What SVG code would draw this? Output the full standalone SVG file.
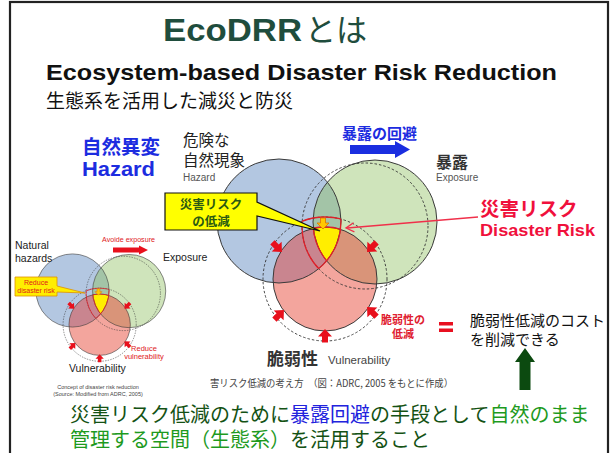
<svg xmlns="http://www.w3.org/2000/svg" width="611" height="453" viewBox="0 0 611 453">
<style>
.jp{font-family:'Noto Sans CJK JP','Noto Sans CJK SC',sans-serif}
.en{font-family:'Liberation Sans',Arial,sans-serif}
.ol{stroke:#3a3a3a;stroke-width:1;fill:none}
.dash{stroke:#333;stroke-width:0.9;fill:none;stroke-dasharray:2.5 2}
.red{stroke:#e0202a;stroke-width:1.3;fill:none}
.rarr{fill:#e8101c}
</style>
<defs>
<clipPath id="cB"><circle cx="279" cy="221" r="62"/></clipPath>
<clipPath id="cG"><circle cx="375" cy="222" r="62"/></clipPath>
<clipPath id="cP"><circle cx="325" cy="279" r="52"/></clipPath>
<clipPath id="cGD"><circle cx="365" cy="226" r="63"/></clipPath>
<clipPath id="cPD"><circle cx="325" cy="279" r="62"/></clipPath>
<path id="ra" class="rarr" d="M0,-7 L7,0.5 L3,0.5 L3,6.5 L-3,6.5 L-3,0.5 L-7,0.5 Z"/>
<g id="venn">
 <circle cx="279" cy="221" r="62" fill="#b3c7e1"/>
 <circle cx="375" cy="222" r="62" fill="#cfe4bb"/>
 <g clip-path="url(#cB)"><circle cx="375" cy="222" r="62" fill="#a3c4a7"/></g>
 <circle cx="325" cy="279" r="52" fill="#f3a59d"/>
 <g clip-path="url(#cB)"><circle cx="325" cy="279" r="52" fill="#c9858f"/></g>
 <g clip-path="url(#cG)"><circle cx="325" cy="279" r="52" fill="#d99479"/></g>
 <g clip-path="url(#cB)"><g clip-path="url(#cG)"><circle cx="325" cy="279" r="52" fill="#ffee00"/></g></g>
 <circle class="ol" cx="279" cy="221" r="62"/>
 <circle class="ol" cx="375" cy="222" r="62"/>
 <circle class="ol" cx="325" cy="279" r="52"/>
 <circle class="dash" cx="365" cy="226" r="63"/>
 <circle class="dash" cx="325" cy="279" r="62"/>
 <g clip-path="url(#cB)"><g clip-path="url(#cGD)"><circle class="red" cx="325" cy="279" r="62"/></g></g>
 <g clip-path="url(#cGD)"><g clip-path="url(#cPD)"><circle class="red" cx="279" cy="221" r="62"/></g></g>
 <g clip-path="url(#cB)"><g clip-path="url(#cPD)"><circle class="red" cx="365" cy="226" r="63"/></g></g>
 <g clip-path="url(#cB)"><g clip-path="url(#cG)"><circle class="red" cx="325" cy="279" r="52"/></g></g>
 <g clip-path="url(#cB)"><g clip-path="url(#cP)"><circle class="red" cx="375" cy="222" r="62"/></g></g>
 <path d="M320.5,218 H325.5 V223 H329 L323,229 L317,223 H320.5 Z" fill="#ffc800" stroke="#e07000" stroke-width="0.8"/>
 <use href="#ra" transform="translate(277,247) rotate(135)"/>
 <use href="#ra" transform="translate(372,247) rotate(-135)"/>
 <use href="#ra" transform="translate(279,315) rotate(45)"/>
 <use href="#ra" transform="translate(372,312) rotate(-45)"/>
 <use href="#ra" transform="translate(325,336)"/>
</g>
</defs>

<rect x="10" y="2" width="598" height="470" fill="#fff" stroke="#222" stroke-width="2.2"/>

<g id="title">
 <text class="en" x="163" y="41" font-size="31" font-weight="bold" fill="#1f4d3d" textLength="139" lengthAdjust="spacingAndGlyphs">EcoDRR</text>
 <text class="jp" x="305" y="41" font-size="31" fill="#1f4d3d">とは</text>
 <text class="en" x="46" y="80" font-size="22" font-weight="bold" fill="#111" textLength="511" lengthAdjust="spacingAndGlyphs">Ecosystem-based Disaster Risk Reduction</text>
 <text class="jp" x="46" y="108" font-size="19" fill="#111">生態系を活用した減災と防災</text>
</g>

<g id="small-diagram">
 <use href="#venn" transform="translate(-92.1,160.1) scale(0.59)"/>
 <text class="en" x="15" y="249" font-size="10.5" fill="#222">Natural</text>
 <text class="en" x="15" y="262" font-size="10.5" fill="#222">hazards</text>
 <text class="en" x="102" y="242" font-size="7" fill="#e0201c" textLength="53" lengthAdjust="spacingAndGlyphs">Avoide exposure</text>
 <path d="M113,247.5 H139 V245.5 L148,250 L139,254.5 V252.5 H113 Z" fill="#e8101c"/>
 <text class="en" x="163" y="261" font-size="10.5" fill="#222">Exposure</text>
 <path d="M15,277 H57 V286 L85,293 L57,292 V296 H15 Z" fill="#ffee00" stroke="#e09000" stroke-width="0.8"/>
 <text class="en" x="36" y="285" font-size="7" fill="#e0201c" text-anchor="middle">Reduce</text>
 <text class="en" x="36" y="293" font-size="7" fill="#e0201c" text-anchor="middle">disaster risk</text>
 <text class="en" x="144" y="351" font-size="7.5" fill="#e0201c" text-anchor="middle">Reduce</text>
 <text class="en" x="144" y="359" font-size="7.5" fill="#e0201c" text-anchor="middle">vulnerability</text>
 <text class="en" x="69" y="372" font-size="10.5" fill="#222">Vulnerability</text>
 <text class="en" x="98" y="389" font-size="5.5" fill="#444" text-anchor="middle">Concept of disaster risk reduction</text>
 <text class="en" x="98" y="396" font-size="5.5" fill="#444" text-anchor="middle">(Source: Modified from ADRC, 2005)</text>
</g>

<g id="main-diagram">
 <use href="#venn"/>
</g>

<g id="connectors">
 <path d="M350,145 H395 V141 L410,149.5 L395,158 V154 H350 Z" fill="#1a2ee0"/>
 <line x1="478" y1="217" x2="347" y2="228" stroke="#f0304a" stroke-width="1.3"/>
 <polyline points="353.6,222.8 346,228 354.4,231.8" fill="none" stroke="#f0304a" stroke-width="1.3"/>
 <path d="M525,348 L535,362 H530.5 V390 H519.5 V362 H515 Z" fill="#0c4a10"/>
</g>

<g id="callout">
 <path d="M165,193 H257 V202 L320,231 L257,216 V230 H165 Z" fill="#ffff00" stroke="#111" stroke-width="1.2"/>
 <text class="jp" x="211" y="209" font-size="12.5" font-weight="bold" fill="#2a5a12" text-anchor="middle">災害リスク</text>
 <text class="jp" x="211" y="226" font-size="12.5" font-weight="bold" fill="#2a5a12" text-anchor="middle">の低減</text>
</g>

<g id="labels">
 <text class="jp" x="82" y="154" font-size="19.5" font-weight="bold" fill="#1c2ce0">自然異変</text>
 <text class="en" x="82" y="176" font-size="20" font-weight="bold" fill="#1c2ce0" textLength="73" lengthAdjust="spacingAndGlyphs">Hazard</text>
 <text class="jp" x="183" y="146" font-size="15.5" fill="#222">危険な</text>
 <text class="jp" x="183" y="166" font-size="15.5" fill="#222">自然現象</text>
 <text class="en" x="183" y="181" font-size="10" fill="#555">Hazard</text>
 <text class="jp" x="342" y="139" font-size="15" font-weight="bold" fill="#1c2ce0">暴露の回避</text>
 <text class="jp" x="436" y="168" font-size="16" font-weight="bold" fill="#333">暴露</text>
 <text class="en" x="436" y="181" font-size="10" fill="#555">Exposure</text>
 <text class="jp" x="480" y="216" font-size="19.5" font-weight="bold" fill="#f0103c">災害リスク</text>
 <text class="en" x="480" y="236" font-size="17" font-weight="bold" fill="#f0103c" textLength="115" lengthAdjust="spacingAndGlyphs">Disaster Risk</text>
 <text class="jp" x="403" y="324" font-size="11" font-weight="bold" fill="#e02030" text-anchor="middle">脆弱性の</text>
 <text class="jp" x="403" y="338" font-size="11" font-weight="bold" fill="#e02030" text-anchor="middle">低減</text>
 <rect x="439" y="322" width="14" height="3.5" fill="#e81020"/>
 <rect x="439" y="328.5" width="14" height="3.5" fill="#e81020"/>
 <text class="jp" x="470" y="326" font-size="15" fill="#111">脆弱性低減のコスト</text>
 <text class="jp" x="470" y="345" font-size="15" fill="#111">を削減できる</text>
 <text class="jp" x="267" y="365" font-size="17" font-weight="bold" fill="#333">脆弱性</text>
 <text class="en" x="328" y="364" font-size="11.5" fill="#444">Vulnerability</text>
 <text class="jp" x="210" y="387" font-size="10" fill="#444" textLength="243" lengthAdjust="spacingAndGlyphs">害リスク低減の考え方　（図：ADRC, 2005 をもとに作成）</text>
</g>

<g id="conclusion">
 <text class="jp" x="70" y="422" font-size="20" fill="#145214">災害リスク低減のために<tspan fill="#2222dd">暴露回避</tspan>の手段として<tspan fill="#1e9a1e">自然のまま</tspan></text>
 <text class="jp" x="70" y="447" font-size="20" fill="#145214"><tspan fill="#1e9a1e">管理する空間（生態系）</tspan>を活用すること</text>
</g>
</svg>
